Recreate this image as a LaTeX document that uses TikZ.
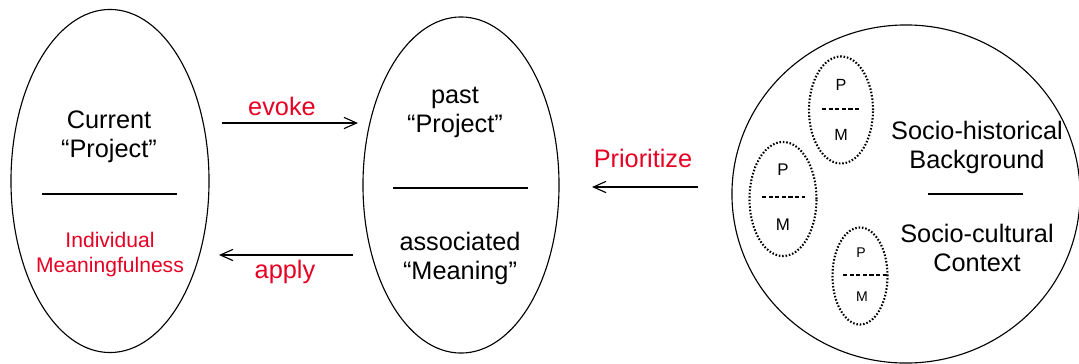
\documentclass[tikz,border=0pt]{standalone}
\usepackage{fontspec}
\setmainfont{Liberation Sans}
\usetikzlibrary{shapes.geometric,arrows.meta}
\definecolor{evred}{RGB}{230,0,35}
\newcommand{\bigtxt}{\fontsize{18}{20.6}\selectfont}
\newcommand{\redtxt}{\fontsize{15}{17.8}\selectfont}

\begin{document}
\begin{tikzpicture}[x=0.025cm,y=-0.025cm,line width=0.8pt,>={Straight Barb[length=9pt,width=8pt]}]
    \useasboundingbox (0,0) rectangle (1079,363);
    % big ellipses
    \node[draw,ellipse,inner sep=0,minimum width=4.95cm,minimum height=8.575cm] (cur) at (110,181){};
    \node[draw,ellipse,inner sep=0,minimum width=4.9cm,minimum height=8.4cm] (past) at (461,185){};
    \node[draw,ellipse,inner sep=0,minimum width=8.7cm,minimum height=8.45cm] (soc) at (906,194){};
    % left
    \node[align=center,font=\bigtxt] (curp) at (109,137) {Current\\“Project”};
    \draw (42,194)--(177,194);
    \node[align=center,font=\redtxt,text=evred] (curm) at (110,255) {Individual\\Meaningfulness};
    % middle
    \node[align=center,font=\bigtxt] (pastp) at (455,112) {past\\“Project”};
    \draw (393,188)--(528,188);
    \node[align=center,font=\bigtxt] (pastm) at (460,258) {associated\\“Meaning”};
    % right
    \node[align=center,font=\bigtxt] (hist) at (977,147) {Socio-historical\\Background};
    \draw (928,194)--(1023,194);
    \node[align=center,font=\bigtxt] (cult) at (977,248) {Socio-cultural\\Context};
    % small P/M ellipses
    \node[draw,ellipse,inner sep=0,line width=1.5pt,dash pattern=on 1.1pt off 1.3pt,minimum width=1.6cm,minimum height=2.675cm] (pma) at (841,110){};
    \node[font=\fontsize{11.5}{13}\selectfont] (pa) at (841,85) {P};
    \draw[line width=1.4pt,dash pattern=on 3pt off 1.7pt] (822,109)--(861,109);
    \node[font=\fontsize{11.5}{13}\selectfont] (ma) at (841,135) {M};
    \node[draw,ellipse,inner sep=0,line width=1.5pt,dash pattern=on 1.1pt off 1.3pt,minimum width=1.675cm,minimum height=2.85cm] (pmb) at (783,199){};
    \node[font=\fontsize{12}{14}\selectfont] (pb) at (783,170) {P};
    \draw[line width=1.4pt,dash pattern=on 3pt off 1.7pt] (762,197)--(805,197);
    \node[font=\fontsize{12}{14}\selectfont] (mb) at (783,225) {M};
    \node[draw,ellipse,inner sep=0,line width=1.5pt,dash pattern=on 1.1pt off 1.3pt,minimum width=1.375cm,minimum height=2.425cm] (pmc) at (860,276){};
    \node[font=\fontsize{10}{12}\selectfont] (pc) at (861,253) {P};
    \draw[line width=1.4pt,dash pattern=on 3pt off 1.7pt] (843,275)--(887,275);
    \node[font=\fontsize{10}{12}\selectfont] (mc) at (862,297) {M};
    % arrows
    \coordinate (evs) at (222,123);
    \coordinate (eve) at (358,123);
    \coordinate (aps) at (353,255);
    \coordinate (ape) at (219,255);
    \coordinate (prs) at (698,187);
    \coordinate (pre) at (592,187);
    \draw[->] (evs)--(eve);
    \draw[->] (aps)--(ape);
    \draw[->] (prs)--(pre);
    \node[font=\bigtxt,text=evred] (evoke) at (282,106) {evoke};
    \node[font=\bigtxt,text=evred] (apply) at (285,272) {apply};
    \node[font=\bigtxt,text=evred] (prio) at (643,158) {Prioritize};
\end{tikzpicture}
\end{document}
